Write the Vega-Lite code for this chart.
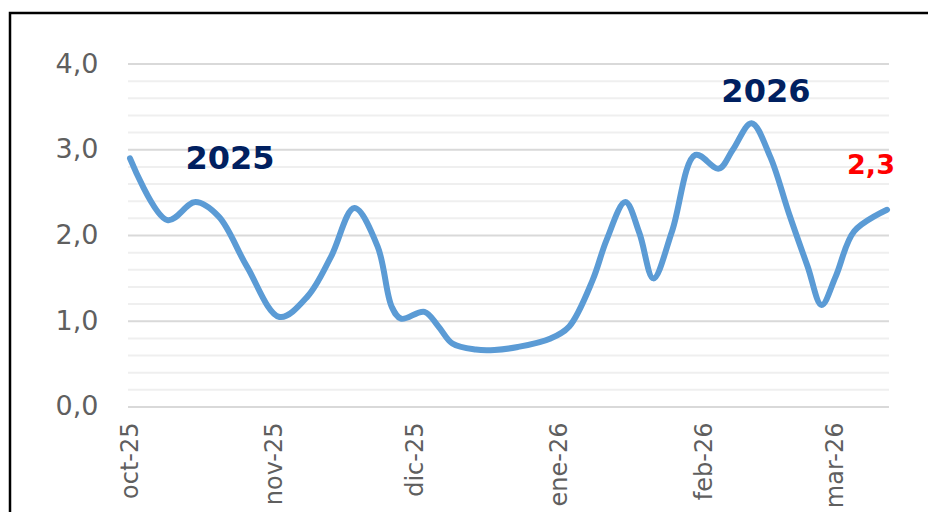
{
  "$schema": "https://vega.github.io/schema/vega-lite/v6.json",
  "width": 920,
  "height": 502,
  "padding": {"left": 10, "top": 13, "right": 0, "bottom": 0},
  "autosize": {"type": "none"},
  "background": "white",
  "config": {
    "view": {"stroke": "black", "strokeWidth": 2.5},
    "font": "DejaVu Sans",
    "locale": {
      "number": {"decimal": ",", "thousands": ".", "grouping": [3], "currency": ["", " €"]},
      "time": {
        "dateTime": "%A, %e de %B de %Y, %X",
        "date": "%d/%m/%Y",
        "time": "%H:%M:%S",
        "periods": ["AM", "PM"],
        "days": ["domingo", "lunes", "martes", "miércoles", "jueves", "viernes", "sábado"],
        "shortDays": ["dom", "lun", "mar", "mié", "jue", "vie", "sáb"],
        "months": ["enero", "febrero", "marzo", "abril", "mayo", "junio", "julio", "agosto", "septiembre", "octubre", "noviembre", "diciembre"],
        "shortMonths": ["ene", "feb", "mar", "abr", "may", "jun", "jul", "ago", "sep", "oct", "nov", "dic"]
      }
    }
  },
  "datasets": {
    "series": [
      {"date": "2025-10-01", "value": 2.90},
      {"date": "2025-10-09", "value": 2.18},
      {"date": "2025-10-15", "value": 2.39},
      {"date": "2025-10-20", "value": 2.22},
      {"date": "2025-10-26", "value": 1.64},
      {"date": "2025-11-02", "value": 1.05},
      {"date": "2025-11-08", "value": 1.29},
      {"date": "2025-11-13", "value": 1.75},
      {"date": "2025-11-18", "value": 2.32},
      {"date": "2025-11-23", "value": 1.87},
      {"date": "2025-11-26", "value": 1.17},
      {"date": "2025-11-28", "value": 1.03},
      {"date": "2025-12-03", "value": 1.11},
      {"date": "2025-12-06", "value": 0.94},
      {"date": "2025-12-09", "value": 0.74},
      {"date": "2025-12-14", "value": 0.67},
      {"date": "2025-12-18", "value": 0.665},
      {"date": "2025-12-23", "value": 0.70},
      {"date": "2025-12-30", "value": 0.80},
      {"date": "2026-01-03", "value": 0.94},
      {"date": "2026-01-08", "value": 1.48},
      {"date": "2026-01-11", "value": 1.95},
      {"date": "2026-01-15", "value": 2.39},
      {"date": "2026-01-18", "value": 2.03},
      {"date": "2026-01-21", "value": 1.50},
      {"date": "2026-01-25", "value": 2.05},
      {"date": "2026-01-30", "value": 2.94},
      {"date": "2026-02-04", "value": 2.78},
      {"date": "2026-02-07", "value": 3.00},
      {"date": "2026-02-11", "value": 3.31},
      {"date": "2026-02-15", "value": 2.92},
      {"date": "2026-02-19", "value": 2.26},
      {"date": "2026-02-23", "value": 1.64},
      {"date": "2026-02-26", "value": 1.19},
      {"date": "2026-03-01", "value": 1.52},
      {"date": "2026-03-05", "value": 2.05},
      {"date": "2026-03-12", "value": 2.30}
    ],
    "grid": [
      {"v": 0}, {"v": 0.2}, {"v": 0.4}, {"v": 0.6}, {"v": 0.8},
      {"v": 1}, {"v": 1.2}, {"v": 1.4}, {"v": 1.6}, {"v": 1.8},
      {"v": 2}, {"v": 2.2}, {"v": 2.4}, {"v": 2.6}, {"v": 2.8},
      {"v": 3}, {"v": 3.2}, {"v": 3.4}, {"v": 3.6}, {"v": 3.8},
      {"v": 4}
    ],
    "years": [
      {"label": "2025", "date": "2025-10-22T10:00:00Z", "value": 2.89},
      {"label": "2026", "date": "2026-02-14T02:00:00Z", "value": 3.67}
    ]
  },
  "layer": [
    {
      "data": {"name": "grid"},
      "mark": {"type": "rule", "strokeWidth": 2},
      "encoding": {
        "y": {
          "field": "v",
          "type": "quantitative",
          "scale": {"domain": [-1.2595, 4.5948], "nice": false, "zero": false},
          "axis": {
            "orient": "left",
            "offset": -118,
            "values": [0, 1, 2, 3, 4],
            "format": ".1f",
            "grid": false,
            "domain": false,
            "ticks": false,
            "labelPadding": 30,
            "labelFontSize": 27,
            "labelColor": "#5f5f5f",
            "title": null
          }
        },
        "x": {
          "datum": {"year": 2025, "month": "sep", "date": 30, "hours": 13, "minutes": 44, "utc": true},
          "type": "temporal",
          "scale": {
            "type": "utc",
            "nice": false,
            "domain": [
              {"year": 2025, "month": "sep", "date": 5, "hours": 7, "minutes": 40, "utc": true},
              {"year": 2026, "month": "mar", "date": 21, "hours": 4, "minutes": 48, "utc": true}
            ]
          },
          "axis": {
            "orient": "bottom",
            "offset": -108,
            "values": [
              {"year": 2025, "month": "oct", "date": 1, "utc": true},
              {"year": 2025, "month": "nov", "date": 1, "utc": true},
              {"year": 2025, "month": "dec", "date": 1, "utc": true},
              {"year": 2026, "month": "jan", "date": 1, "utc": true},
              {"year": 2026, "month": "feb", "date": 1, "utc": true},
              {"year": 2026, "month": "mar", "date": 1, "utc": true}
            ],
            "format": "%b-%y",
            "labelAngle": 270,
            "labelAlign": "right",
            "labelBaseline": "middle",
            "labelPadding": 15,
            "labelFontSize": 24,
            "labelColor": "#5f5f5f",
            "grid": false,
            "domain": false,
            "ticks": false,
            "labelOverlap": false,
            "title": null
          }
        },
        "x2": {"datum": {"year": 2026, "month": "mar", "date": 12, "hours": 10, "minutes": 5, "utc": true}},
        "color": {"condition": {"test": "datum.v % 1 === 0", "value": "#d9d9d9"}, "value": "#efefef"}
      }
    },
    {
      "data": {"name": "series"},
      "mark": {"type": "line", "interpolate": "catmull-rom", "strokeWidth": 6, "color": "#5B9BD5", "strokeCap": "round", "strokeJoin": "round"},
      "encoding": {
        "x": {"field": "date", "type": "temporal"},
        "y": {"field": "value", "type": "quantitative"}
      }
    },
    {
      "data": {"name": "years"},
      "mark": {"type": "text", "fontWeight": "bold", "fontSize": 32, "color": "#002060", "align": "center", "baseline": "middle"},
      "encoding": {
        "x": {"field": "date", "type": "temporal"},
        "y": {"field": "value", "type": "quantitative"},
        "text": {"field": "label"}
      }
    },
    {
      "data": {"name": "series"},
      "transform": [
        {"joinaggregate": [{"op": "max", "field": "date", "as": "maxd"}]},
        {"filter": "time(datum.date) === time(datum.maxd)"}
      ],
      "mark": {"type": "text", "fontWeight": "bold", "fontSize": 27, "color": "#FF0000", "align": "center", "baseline": "middle", "dx": -16, "dy": -44},
      "encoding": {
        "x": {"field": "date", "type": "temporal"},
        "y": {"field": "value", "type": "quantitative"},
        "text": {"field": "value", "type": "quantitative", "format": ".1f"}
      }
    }
  ]
}
